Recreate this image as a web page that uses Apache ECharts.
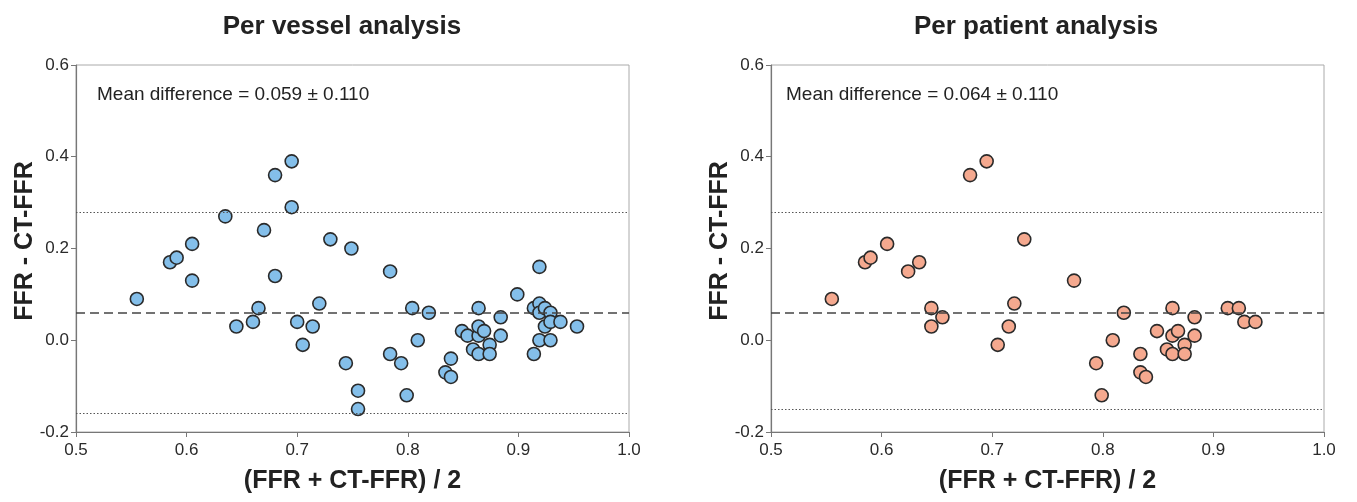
<!DOCTYPE html>
<html>
<head>
<meta charset="utf-8">
<script src="https://cdn.jsdelivr.net/npm/echarts@6/dist/echarts.min.js"></script>
<style>
html,body{margin:0;padding:0;background:#fff;}
#chart{width:1357px;height:502px;}
</style>
</head>
<body>
<div id="chart"></div>
<script>
// Per vessel analysis: [mean of FFR and CT-FFR, FFR - CT-FFR]
var vesselPoints = [
  [0.555,0.09],[0.585,0.17],[0.591,0.18],[0.605,0.21],[0.605,0.13],[0.635,0.27],
  [0.645,0.03],[0.660,0.04],[0.665,0.07],[0.670,0.24],[0.680,0.36],[0.680,0.14],
  [0.695,0.39],[0.695,0.29],[0.700,0.04],[0.705,-0.01],[0.714,0.03],[0.720,0.08],
  [0.730,0.22],[0.749,0.20],[0.744,-0.05],[0.755,-0.11],[0.755,-0.15],[0.784,0.15],
  [0.784,-0.03],[0.794,-0.05],[0.799,-0.12],[0.804,0.07],[0.809,0.00],[0.819,0.06],
  [0.834,-0.07],[0.839,-0.08],[0.839,-0.04],[0.849,0.02],[0.854,0.01],[0.859,-0.02],
  [0.864,-0.03],[0.864,0.01],[0.864,0.03],[0.864,0.07],[0.869,0.02],[0.874,-0.01],
  [0.874,-0.03],[0.884,0.05],[0.884,0.01],[0.899,0.10],[0.914,-0.03],[0.914,0.07],
  [0.919,0.16],[0.919,0.08],[0.919,0.06],[0.919,0.00],[0.924,0.07],[0.924,0.03],
  [0.929,0.06],[0.929,0.04],[0.929,0.00],[0.938,0.04],[0.953,0.03]
];
// Per patient analysis
var patientPoints = [
  [0.555,0.09],[0.585,0.17],[0.590,0.18],[0.605,0.21],[0.624,0.15],[0.634,0.17],
  [0.645,0.07],[0.645,0.03],[0.655,0.05],[0.680,0.36],[0.695,0.39],[0.705,-0.01],
  [0.715,0.03],[0.720,0.08],[0.729,0.22],[0.774,0.13],[0.819,0.06],[0.809,0.00],
  [0.794,-0.05],[0.799,-0.12],[0.834,-0.03],[0.834,-0.07],[0.839,-0.08],[0.849,0.02],
  [0.863,0.07],[0.863,0.01],[0.868,0.02],[0.858,-0.02],[0.863,-0.03],[0.874,-0.01],
  [0.874,-0.03],[0.883,0.05],[0.883,0.01],[0.913,0.07],[0.923,0.07],[0.928,0.04],
  [0.938,0.04]
];
// Bland-Altman lines: [mean, upper limit, lower limit]
var vesselLines = [0.059, 0.275, -0.157];
var patientLines = [0.064, 0.280, -0.152];
var panelTitles = ['Per vessel analysis', 'Per patient analysis'];
var meanTexts = ['Mean difference = 0.059 \u00b1 0.110', 'Mean difference = 0.064 \u00b1 0.110'];
var xAxisTitle = '(FFR + CT-FFR) / 2';
var yAxisTitle = 'FFR - CT-FFR';

var FONT = '"Liberation Sans", Arial, Helvetica, sans-serif';

function xAx(gi){
  return {
    type:'value', gridIndex:gi, min:0.5, max:1.0, interval:0.1,
    axisLine:{show:true, onZero:false, lineStyle:{color:'#777', width:1.2}},
    axisTick:{show:true, length:5, lineStyle:{color:'#777'}},
    splitLine:{show:false},
    axisLabel:{color:'#2a2a2a', fontSize:17, fontFamily:FONT, margin:10,
      formatter:function(v){return v.toFixed(1);}},
    name: xAxisTitle, nameLocation:'middle', nameGap:37,
    nameTextStyle:{fontSize:25, fontWeight:'bold', color:'#222', fontFamily:FONT}
  };
}
function yAx(gi){
  return {
    type:'value', gridIndex:gi, min:-0.2, max:0.6, interval:0.2,
    axisLine:{show:true, onZero:false, lineStyle:{color:'#777', width:1.2}},
    axisTick:{show:true, length:5, lineStyle:{color:'#777'}},
    splitLine:{show:false},
    axisLabel:{color:'#2a2a2a', fontSize:17, fontFamily:FONT, margin:7,
      formatter:function(v){return v.toFixed(1);}}
  };
}
function lines(arr){
  return {
    silent:true, symbol:'none', label:{show:false},
    data:[
      {yAxis:arr[0], lineStyle:{type:[9,5], color:'#444', width:1.7}},
      {yAxis:arr[1], lineStyle:{type:[1.5,2], color:'#555', width:1.2}},
      {yAxis:arr[2], lineStyle:{type:[1.5,2], color:'#555', width:1.2}}
    ]
  };
}

var chart = echarts.init(document.getElementById('chart'));
chart.setOption({
  backgroundColor:'#fff',
  animation:false,
  title:[
    {text:panelTitles[0], left:337, top:9, textAlign:'center',
     textStyle:{fontSize:26, fontWeight:'bold', color:'#222', fontFamily:FONT}},
    {text:panelTitles[1], left:1031, top:9, textAlign:'center',
     textStyle:{fontSize:26, fontWeight:'bold', color:'#222', fontFamily:FONT}}
  ],
  grid:[
    {left:76, right:728, top:65, bottom:70, show:true, borderColor:'#aaa', borderWidth:1},
    {left:771, right:33, top:65, bottom:70, show:true, borderColor:'#aaa', borderWidth:1}
  ],
  xAxis:[xAx(0), xAx(1)],
  yAxis:[yAx(0), yAx(1)],
  graphic:[
    {type:'text', x:25, y:241, rotation:Math.PI/2,
     style:{text:yAxisTitle, fill:'#222', font:'bold 25px '+FONT, textAlign:'center', textVerticalAlign:'middle'}},
    {type:'text', x:720, y:241, rotation:Math.PI/2,
     style:{text:yAxisTitle, fill:'#222', font:'bold 25px '+FONT, textAlign:'center', textVerticalAlign:'middle'}},
    {type:'text', x:97, y:95,
     style:{text:meanTexts[0], font:'19px '+FONT, fill:'#222', textVerticalAlign:'middle'}},
    {type:'text', x:786, y:95,
     style:{text:meanTexts[1], font:'19px '+FONT, fill:'#222', textVerticalAlign:'middle'}}
  ],
  series:[
    {type:'scatter', xAxisIndex:0, yAxisIndex:0, data:vesselPoints, symbolSize:13,
     itemStyle:{color:'#84bfea', borderColor:'#2a2a2a', borderWidth:1.6, opacity:1},
     markLine:lines(vesselLines), z:3},
    {type:'scatter', xAxisIndex:1, yAxisIndex:1, data:patientPoints, symbolSize:13,
     itemStyle:{color:'#f5a98f', borderColor:'#2a2a2a', borderWidth:1.6, opacity:1},
     markLine:lines(patientLines), z:3}
  ]
});
</script>
</body>
</html>
